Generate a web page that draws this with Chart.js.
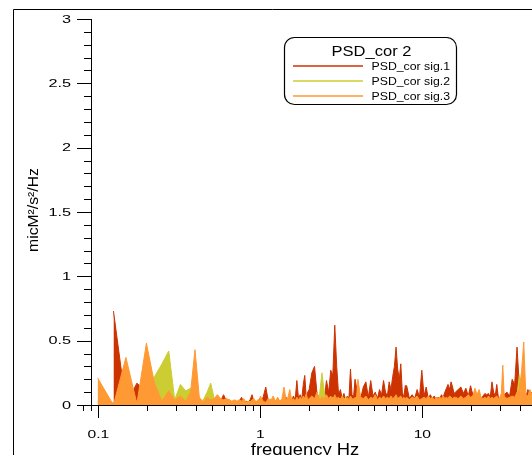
<!DOCTYPE html>
<html>
<head>
<meta charset="utf-8">
<script src="https://cdn.jsdelivr.net/npm/chart.js@4.4.1/dist/chart.umd.min.js"></script>
<style>
  html, body { margin: 0; padding: 0; overflow: hidden; background: #fff; }
  #wrap { width: 532px; height: 470px; }
</style>
</head>
<body>
<div id="wrap"><canvas id="psd" width="532" height="470"></canvas></div>
<script>
// Frequency bins (Hz)
const freqHz = [
  0.099,0.124,0.148,0.173,0.198,0.222,0.247,0.272,0.296,0.321,0.346,0.371,0.395,0.420,0.445,0.469,0.494,0.519,0.543,0.568,0.593,0.618,0.642,0.667,0.692,0.716,0.741,0.766,0.790,0.815,0.840,0.864,0.889,0.914,0.938,0.963,0.988,
  1.00,1.04,1.08,1.12,1.16,1.20,1.24,1.28,1.32,1.36,1.40,1.44,1.48,1.52,1.56,1.60,1.64,1.68,1.72,1.76,1.80,1.84,1.88,1.92,1.96,
  2.00,2.08,2.16,2.24,2.32,2.40,2.48,2.56,2.64,2.72,2.80,2.88,2.96,3.04,3.12,3.20,3.28,3.36,3.44,3.52,3.60,3.68,3.76,3.84,3.92,
  4.00,4.16,4.32,4.48,4.64,4.80,4.96,5.12,5.28,5.44,5.60,5.76,5.92,6.08,6.24,6.40,6.56,6.72,6.88,7.04,7.20,7.36,7.52,7.68,7.84,
  8.00,8.32,8.64,8.96,9.28,9.60,9.92,10.24,10.56,10.88,11.20,11.52,11.84,12.16,12.48,12.80,13.12,13.44,13.76,14.08,14.40,14.72,15.04,15.36,15.68,
  16.00,16.64,17.28,17.92,18.56,19.20,19.84,20.48,21.12,21.76,22.40,23.04,23.68,24.32,24.96,25.60,26.24,26.88,27.52,28.16,28.80,29.44,30.08,30.72,31.36,
  32.00,33.28,34.56,35.84,37.12,38.40,39.68,40.96,42.24,43.52,44.80,46.08,47.36
];

// PSD_cor sig.1 (no value in the first bin)
const sig1 = [
  null,0.73,0.00,0.17,0.10,0.05,0.08,0.06,0.03,0.05,0.02,0.04,0.10,0.03,0.02,0.03,0.04,0.02,0.05,0.03,0.08,0.03,0.04,0.02,0.03,0.02,0.03,0.06,0.02,0.03,0.02,0.04,0.08,0.02,0.03,0.02,0.05,
  0.03,0.06,0.14,0.03,0.02,0.04,0.02,0.05,0.03,0.04,0.03,0.06,0.04,0.05,0.03,0.07,0.04,0.19,0.05,0.08,0.04,0.16,0.23,0.06,0.10,
  0.12,0.25,0.30,0.08,0.06,0.09,0.05,0.19,0.10,0.27,0.23,0.62,0.30,0.08,0.12,0.05,0.09,0.04,0.07,0.05,0.28,0.08,0.06,0.20,0.14,
  0.08,0.05,0.14,0.18,0.06,0.19,0.07,0.10,0.05,0.12,0.08,0.19,0.10,0.07,0.18,0.12,0.22,0.30,0.45,0.28,0.20,0.32,0.10,0.06,0.15,
  0.15,0.05,0.08,0.05,0.12,0.06,0.27,0.07,0.14,0.05,0.08,0.05,0.07,0.04,0.06,0.05,0.08,0.06,0.10,0.13,0.16,0.12,0.18,0.14,0.09,
  0.10,0.12,0.14,0.09,0.13,0.07,0.15,0.08,0.10,0.06,0.08,0.05,0.07,0.09,0.08,0.09,0.06,0.18,0.10,0.07,0.16,0.06,0.05,0.07,0.08,
  0.08,0.10,0.07,0.20,0.16,0.45,0.15,0.10,0.08,0.06,0.12,0.08,0.10
];

// PSD_cor sig.2
const sig2 = [
  0.03,0.02,0.05,0.03,0.10,0.22,0.32,0.42,0.04,0.16,0.11,0.13,0.08,0.03,0.04,0.10,0.17,0.05,0.03,0.02,0.03,0.02,0.03,0.02,0.02,0.03,0.02,0.02,0.03,0.02,0.02,0.03,0.02,0.02,0.03,0.02,0.04,
  0.02,0.01,0.02,0.03,0.05,0.02,0.01,0.02,0.04,0.02,0.02,0.03,0.02,0.03,0.02,0.04,0.02,0.03,0.02,0.03,0.05,0.02,0.04,0.03,0.02,
  0.03,0.04,0.03,0.05,0.08,0.25,0.10,0.04,0.03,0.04,0.06,0.05,0.04,0.03,0.05,0.03,0.04,0.06,0.03,0.02,0.04,0.03,0.05,0.03,0.04,
  0.03,0.04,0.03,0.04,0.03,0.05,0.03,0.04,0.03,0.05,0.03,0.04,0.03,0.05,0.03,0.04,0.03,0.04,0.05,0.03,0.04,0.03,0.04,0.03,0.04,
  0.03,0.04,0.03,0.04,0.03,0.04,0.03,0.04,0.03,0.04,0.03,0.04,0.03,0.04,0.03,0.04,0.03,0.04,0.03,0.04,0.03,0.04,0.03,0.04,0.03,
  0.04,0.03,0.04,0.03,0.04,0.03,0.05,0.04,0.05,0.03,0.04,0.03,0.04,0.03,0.04,0.03,0.04,0.03,0.04,0.03,0.04,0.03,0.04,0.03,0.04,
  0.03,0.04,0.03,0.05,0.04,0.08,0.23,0.06,0.05,0.04,0.05,0.10,0.06
];

// PSD_cor sig.3
const sig3 = [
  0.21,0.00,0.37,0.01,0.48,0.17,0.03,0.11,0.04,0.07,0.03,0.10,0.43,0.06,0.02,0.06,0.04,0.05,0.08,0.05,0.04,0.05,0.04,0.03,0.04,0.03,0.04,0.03,0.05,0.02,0.03,0.02,0.04,0.05,0.02,0.04,0.03,
  0.07,0.03,0.02,0.05,0.03,0.07,0.03,0.06,0.02,0.05,0.14,0.04,0.06,0.12,0.04,0.05,0.03,0.06,0.04,0.06,0.03,0.07,0.05,0.09,0.04,
  0.05,0.07,0.05,0.10,0.04,0.06,0.05,0.08,0.05,0.07,0.04,0.08,0.05,0.06,0.04,0.07,0.05,0.03,0.06,0.04,0.07,0.05,0.04,0.06,0.05,
  0.20,0.06,0.05,0.07,0.04,0.06,0.05,0.08,0.04,0.06,0.05,0.07,0.05,0.06,0.05,0.07,0.05,0.06,0.08,0.05,0.06,0.07,0.05,0.06,0.05,
  0.06,0.04,0.06,0.05,0.07,0.04,0.05,0.06,0.05,0.07,0.05,0.06,0.04,0.06,0.05,0.06,0.05,0.07,0.05,0.06,0.05,0.07,0.06,0.05,0.06,
  0.06,0.05,0.07,0.05,0.06,0.08,0.06,0.07,0.13,0.08,0.12,0.06,0.05,0.06,0.05,0.07,0.05,0.06,0.05,0.06,0.07,0.05,0.06,0.09,0.31,
  0.07,0.05,0.06,0.07,0.06,0.10,0.12,0.26,0.49,0.08,0.07,0.12,0.08
];

const seriesNames = ['PSD_cor sig.1', 'PSD_cor sig.2', 'PSD_cor sig.3'];
const seriesColors = ['#CC3300', '#CCCC33', '#FF9933'];
const legendTitle = 'PSD_cor 2';

// Axis ticks and labels
const xMajorTicks = [0.1, 1, 10];
const xTickLabels = ['0.1', '1', '10'];
const xMinorTicks = [0.08, 0.09, 0.2, 0.3, 0.4, 0.5, 0.6, 0.7, 0.8, 0.9, 2, 3, 4, 5, 6, 7, 8, 9, 20, 30, 40];
const yMajorTicks = [0, 0.5, 1, 1.5, 2, 2.5, 3];
const yTickLabels = ['0', '0.5', '1', '1.5', '2', '2.5', '3'];
const yMinorTicks = [0.1,0.2,0.3,0.4,0.6,0.7,0.8,0.9,1.1,1.2,1.3,1.4,1.6,1.7,1.8,1.9,2.1,2.2,2.3,2.4,2.6,2.7,2.8,2.9];
const xTitle = 'frequency Hz';
const yTitle = 'micM\u00B2/s\u00B2/Hz';

const FONT = '"Liberation Sans", Arial, sans-serif';

// text with a horizontal stretch factor
function drawText(ctx, str, x, y, size, sx, align) {
  ctx.save();
  ctx.font = size + 'px ' + FONT;
  ctx.fillStyle = '#000';
  ctx.textAlign = align;
  ctx.textBaseline = 'alphabetic';
  ctx.translate(x, y);
  ctx.scale(sx, 1);
  ctx.fillText(str, 0, 0);
  ctx.restore();
}

// outer frame of the graph window
const framePlugin = {
  id: 'frame',
  beforeDraw(chart) {
    const ctx = chart.ctx;
    ctx.save();
    ctx.strokeStyle = '#000';
    ctx.lineWidth = 1;
    ctx.beginPath();
    ctx.moveTo(13.5, chart.height);
    ctx.lineTo(13.5, 9.5);
    ctx.lineTo(chart.width, 9.5);
    ctx.stroke();
    ctx.restore();
  }
};

// tick marks, tick labels and axis titles
const axisPlugin = {
  id: 'axisDecor',
  afterDraw(chart) {
    const ctx = chart.ctx;
    const xs = chart.scales.x, ys = chart.scales.y;
    const area = chart.chartArea;
    const axisX = area.left;
    const axisY = area.bottom;
    ctx.save();
    ctx.strokeStyle = '#000';
    ctx.lineWidth = 1;
    ctx.beginPath();
    yMajorTicks.forEach(v => {
      const py = Math.round(ys.getPixelForValue(v)) + 0.5;
      ctx.moveTo(axisX - 14, py); ctx.lineTo(axisX + 0.5, py);
    });
    yMinorTicks.forEach(v => {
      const py = Math.round(ys.getPixelForValue(v)) + 0.5;
      ctx.moveTo(axisX - 7, py); ctx.lineTo(axisX + 0.5, py);
    });
    xMajorTicks.forEach(v => {
      const px = Math.round(xs.getPixelForValue(v)) + 0.5;
      ctx.moveTo(px, axisY); ctx.lineTo(px, axisY + 13);
    });
    xMinorTicks.forEach(v => {
      const px = Math.round(xs.getPixelForValue(v)) + 0.5;
      ctx.moveTo(px, axisY); ctx.lineTo(px, axisY + 6);
    });
    ctx.stroke();
    ctx.restore();

    yMajorTicks.forEach((v, i) => {
      drawText(ctx, yTickLabels[i], axisX - 20, ys.getPixelForValue(v) + 3.8, 10.5, 1.55, 'right');
    });
    xMajorTicks.forEach((v, i) => {
      drawText(ctx, xTickLabels[i], xs.getPixelForValue(v), axisY + 32.5, 11.2, 1.4, 'center');
    });
    drawText(ctx, xTitle, 305, axisY + 50, 16, 1.15, 'center');

    ctx.save();
    ctx.translate(38, (area.top + area.bottom) / 2 - 2);
    ctx.rotate(-Math.PI / 2);
    drawText(ctx, yTitle, 0, 0, 15, 1.05, 'center');
    ctx.restore();
  }
};

// boxed legend with a title
const legendPlugin = {
  id: 'boxLegend',
  afterDraw(chart) {
    const ctx = chart.ctx;
    const L = 284.5, T = 37.5, R = 456.5, B = 104.5, r = 10;
    ctx.save();
    ctx.beginPath();
    ctx.moveTo(L + r, T);
    ctx.lineTo(R - r, T); ctx.arcTo(R, T, R, T + r, r);
    ctx.lineTo(R, B - r); ctx.arcTo(R, B, R - r, B, r);
    ctx.lineTo(L + r, B); ctx.arcTo(L, B, L, B - r, r);
    ctx.lineTo(L, T + r); ctx.arcTo(L, T, L + r, T, r);
    ctx.closePath();
    ctx.fillStyle = '#fff';
    ctx.fill();
    ctx.strokeStyle = '#000';
    ctx.lineWidth = 1.2;
    ctx.stroke();
    ctx.restore();

    drawText(ctx, legendTitle, 371.5, 56, 14, 1.18, 'center');
    chart.data.datasets.forEach((ds, i) => {
      const ly = Math.round(66 + i * 15.2);
      ctx.save();
      ctx.strokeStyle = ds.borderColor;
      ctx.lineWidth = 1.4;
      ctx.beginPath();
      ctx.moveTo(293, ly);
      ctx.lineTo(363, ly);
      ctx.stroke();
      ctx.restore();
      drawText(ctx, ds.label, 371.5, ly + 3.5, 10.5, 1.17, 'left');
    });
  }
};

const datasets = [sig1, sig2, sig3].map((vals, i) => ({
  label: seriesNames[i],
  data: freqHz.map((f, j) => ({ x: f, y: vals[j] })),
  borderColor: seriesColors[i],
  backgroundColor: seriesColors[i],
  borderWidth: 1,
  pointRadius: 0,
  tension: 0,
  spanGaps: false,
  fill: 'origin',
  order: 3 - i
}));

new Chart(document.getElementById('psd'), {
  type: 'line',
  data: { datasets },
  options: {
    responsive: false,
    animation: false,
    devicePixelRatio: 1,
    layout: { padding: { top: 19, left: 0, right: 0, bottom: 0 } },
    plugins: { legend: { display: false }, tooltip: { enabled: false } },
    scales: {
      x: {
        type: 'logarithmic',
        min: 0.0901,
        max: 47.5,
        grid: { display: false },
        ticks: { display: false },
        border: { display: true, color: '#000', width: 1 },
        afterFit(scale) { scale.height = 65; }
      },
      y: {
        type: 'linear',
        min: 0,
        max: 3,
        grid: { display: false },
        ticks: { display: false },
        border: { display: true, color: '#000', width: 1 },
        afterFit(scale) { scale.width = 91; }
      }
    }
  },
  plugins: [framePlugin, axisPlugin, legendPlugin]
});
</script>
</body>
</html>
